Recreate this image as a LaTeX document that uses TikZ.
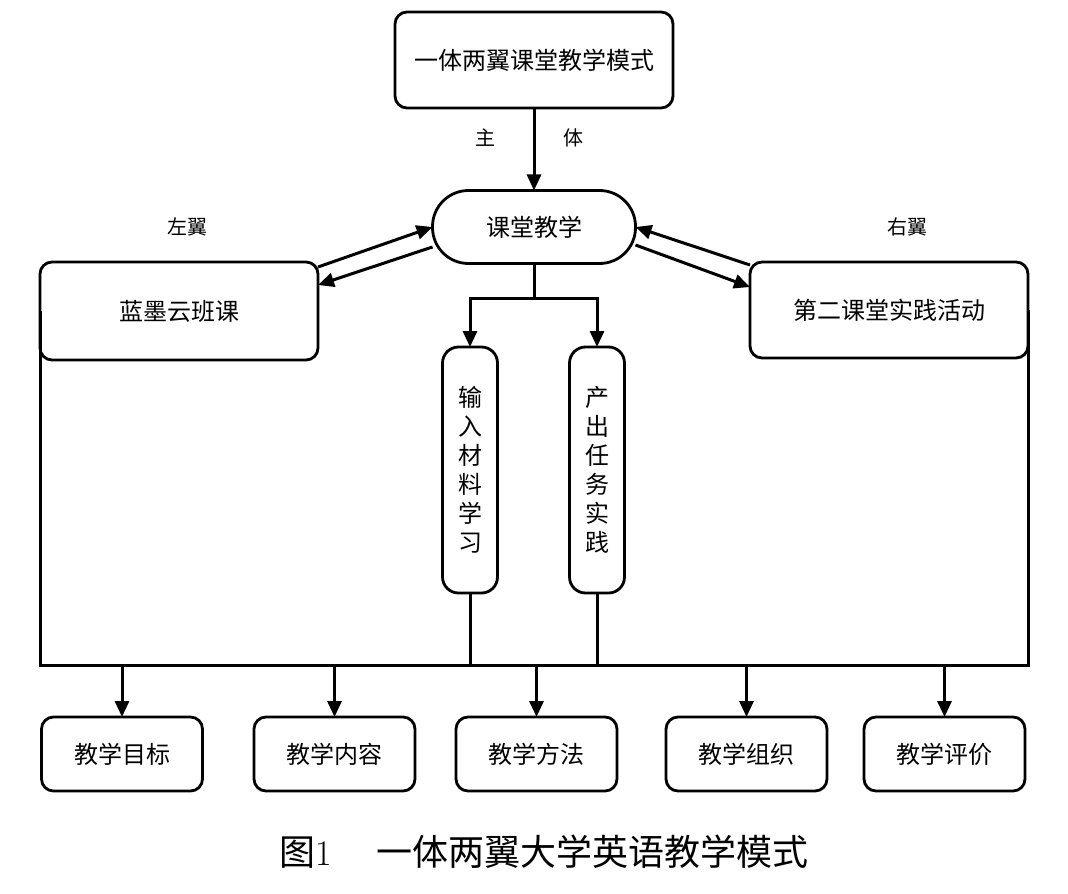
\documentclass[tikz,border=0pt]{standalone}
\usepackage{fontspec}
\newfontfamily\cjk{Noto Sans CJK SC}
\usetikzlibrary{arrows.meta}

\begin{document}
\begin{tikzpicture}[
        x=0.5pt, y=-0.5pt,
        box/.style = {draw=black, fill=white, line width=1.4pt, rounded corners=6pt, inner sep=0pt, outer sep=0pt, font=\cjk\fontsize{12}{14}\selectfont},
        vbox/.style = {box, rounded corners=8pt, align=center, minimum width=27.5pt, minimum height=123pt, font=\cjk\fontsize{12}{14.5}\selectfont},
        sbox/.style = {box, minimum width=80.5pt, minimum height=37pt},
        lbl/.style = {font=\cjk\fontsize{10}{12}\selectfont, inner sep=0pt},
        link/.style = {draw=black, line width=1.5pt},
        flow/.style = {link, ->},
        >={Triangle[length=8pt, width=7pt]}
        ]

        \path[use as bounding box, fill=white] (0,0) rectangle (1068,893);

        \node (mode) at (534,60)      [box, minimum width=139pt, minimum height=48pt] {一体两翼课堂教学模式};
        \node (class) at (534,227)    [box, rounded corners=18pt, minimum width=101.5pt, minimum height=36.5pt] {课堂教学};
        \node (cloud) at (179,311)    [box, minimum width=139pt, minimum height=49pt] {蓝墨云班课};
        \node (practice) at (889,310) [box, minimum width=139pt, minimum height=48pt] {第二课堂实践活动};
        \node (input) at (470,470)    [vbox] {输\\入\\材\\料\\学\\习};
        \node (output) at (597,470)   [vbox] {产\\出\\任\\务\\实\\践};

        \node (zhu) at (485,138)      [lbl] {主};
        \node (ti) at (573,138)       [lbl] {体};
        \node (leftwing) at (187,227) [lbl] {左翼};
        \node (rightwing) at (907,227) [lbl] {右翼};

        \node (goal) at (122,754)     [sbox] {教学目标};
        \node (content) at (334.5,754) [sbox] {教学内容};
        \node (method) at (536.5,754) [sbox] {教学方法};
        \node (organize) at (746.5,754) [sbox] {教学组织};
        \node (assess) at (944.5,754) [sbox] {教学评价};

        \coordinate (fork) at (534,298);
        \coordinate (bar) at (534,665);

        % main stem and the two wings
        \draw[flow] (mode) -- (class);
        \draw[link] (class) -- (fork);
        \draw[flow] (fork) -| (input);
        \draw[flow] (fork) -| (output);
        \draw[flow] ([yshift=-2.5pt]cloud.north east) -- (class.west);
        \draw[flow] ([yshift=-10pt]class.west) -- ([yshift=13pt]cloud.east);
        \draw[flow] ([yshift=-1.5pt]practice.north west) -- (class.east);
        \draw[flow] ([yshift=-9pt]class.east) -- ([yshift=11.5pt]practice.west);

        % collecting bar
        \draw[link] (cloud.west) |- (practice.east |- bar) -- (practice.east);
        \draw[link] (input) -- (input |- bar);
        \draw[link] (output) -- (output |- bar);

        \draw[flow] (goal |- bar) -- (goal);
        \draw[flow] (content |- bar) -- (content);
        \draw[flow] (method |- bar) -- (method);
        \draw[flow] (organize |- bar) -- (organize);
        \draw[flow] (assess |- bar) -- (assess);

        \node (caption) at (544,852) [font=\fontsize{18}{20}\selectfont, inner sep=0pt] {{\cjk 图}1\hspace{1.25em}{\cjk 一体两翼大学英语教学模式}};
    \end{tikzpicture}
\end{document}
